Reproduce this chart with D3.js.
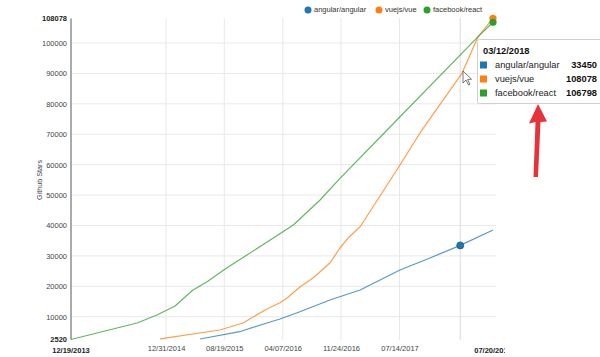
<!DOCTYPE html>
<html><head><meta charset="utf-8">
<script src="https://cdn.jsdelivr.net/npm/d3@7"></script>
<style>body{margin:0;background:#fff}svg{display:block;font-family:"Liberation Sans",Arial,sans-serif}</style>
</head><body>
<svg id="c" width="600" height="357"></svg>
<script>
const seriesNames = ["angular/angular", "vuejs/vue", "facebook/react"];
const seriesColors = ["#1f77b4", "#ff7f0e", "#2ca02c"];
const angularData = [["2015-05-15",2680],["2015-10-19",5080],["2016-02-04",7940],["2016-03-27",9260],["2016-06-14",11660],["2016-10-11",15500],["2017-02-08",18790],["2017-07-16",25360],["2017-11-12",29310],["2018-03-12",33450],["2018-07-20",38510]];
const vueData = [["2014-12-07",2700],["2015-08-02",5640],["2015-11-01",7940],["2016-02-04",12540],["2016-03-27",14620],["2016-04-24",16160],["2016-06-14",19780],["2016-08-05",22740],["2016-10-11",27670],["2016-11-20",32600],["2016-12-22",35880],["2017-02-08",39600],["2017-07-16",59880],["2017-10-11",71380],["2018-03-19",90020],["2018-05-22",102100],["2018-07-20",108078]];
const reactData = [["2013-12-19",2520],["2014-09-07",7944],["2014-11-25",10573],["2015-02-05",13530],["2015-03-10",16000],["2015-04-17",18800],["2015-06-12",21520],["2015-08-21",25595],["2016-05-19",40160],["2016-09-02",48370],["2016-11-20",55500],["2017-05-26",71380],["2018-05-22",102100],["2018-07-20",106798]];
const yTicks = [10000,20000,30000,40000,50000,60000,70000,80000,90000,100000];
const yMin = 2520, yMax = 108078;
const xTickDates = ["2014-12-31","2015-08-19","2016-04-07","2016-11-24","2017-07-14"];
const xMinDate = "2013-12-19", xMaxDate = "2018-07-20";
const hoverDate = "2018-03-12";
const tooltipTitle = "03/12/2018";
const tooltipValues = [33450, 108078, 106798];
const yLabel = "Github Stars";

const parse = d3.timeParse("%Y-%m-%d");
const fmt = d3.timeFormat("%m/%d/%Y");
const svg = d3.select("#c");
const x = d3.scaleTime().domain([parse(xMinDate), parse(xMaxDate)]).range([71, 493]);
const y = d3.scaleLinear().domain([yMin, yMax]).range([339.5, 18.4]);

const defs = svg.append("defs");
defs.append("clipPath").attr("id","clipSvg").append("rect").attr("x",0).attr("y",0).attr("width",505).attr("height",357);

const g = svg.append("g").attr("clip-path","url(#clipSvg)");
// grid
g.selectAll(".hg").data(yTicks).join("line")
  .attr("x1",71).attr("x2",496).attr("y1",d=>y(d)).attr("y2",d=>y(d))
  .attr("stroke","#e8e8e8").attr("stroke-width",1);
g.selectAll(".vg").data(xTickDates).join("line")
  .attr("x1",d=>x(parse(d))).attr("x2",d=>x(parse(d))).attr("y1",18).attr("y2",340)
  .attr("stroke","#e8e8e8").attr("stroke-width",1);
// hover line
g.append("line").attr("x1",x(parse(hoverDate))).attr("x2",x(parse(hoverDate))).attr("y1",18).attr("y2",340)
  .attr("stroke","#dcdcdc").attr("stroke-width",1);

// y axis
const yAxis = d3.axisLeft(y).tickValues(yTicks).tickFormat(d3.format("d")).tickSize(0).tickPadding(4);
const ya = g.append("g").attr("transform","translate(71,0)").call(yAxis);
ya.select(".domain").remove();
ya.selectAll("text").attr("font-size",7.5).attr("fill","#444").attr("font-family","Liberation Sans, Arial");
g.append("line").attr("x1",71).attr("x2",71).attr("y1",y(yMax)).attr("y2",y(yMin)).attr("stroke","#aaa").attr("stroke-width",2);
[yMin,yMax].forEach(v=>{
  g.append("text").attr("x",67).attr("y",y(v)).attr("dy","0.32em").attr("text-anchor","end")
   .attr("font-size",7.5).attr("font-weight","bold").attr("fill","#222").text(v);
});
// x axis
const xAxis = d3.axisBottom(x).tickValues(xTickDates.map(parse)).tickFormat(fmt).tickSize(0).tickPadding(6);
const xa = g.append("g").attr("transform","translate(0,340)").call(xAxis);
xa.select(".domain").remove();
xa.selectAll("text").attr("font-size",7.5).attr("fill","#444").attr("font-family","Liberation Sans, Arial");
[xMinDate,xMaxDate].forEach(d=>{
  g.append("text").attr("x",x(parse(d))).attr("y",353).attr("text-anchor","middle")
   .attr("font-size",7.5).attr("font-weight","bold").attr("fill","#222").text(fmt(parse(d)));
});
// y label
g.append("text").attr("transform","translate(42,180) rotate(-90)").attr("text-anchor","middle")
  .attr("font-size",7.2).attr("fill","#444").text(yLabel);

// lines
const line = d3.line().x(d=>x(parse(d[0]))).y(d=>y(d[1]));
const all = [angularData, vueData, reactData];
all.forEach((data,i)=>{
  g.append("path").datum(data).attr("d",line).attr("fill","none").attr("stroke-linejoin","round")
   .attr("stroke",seriesColors[i]).attr("stroke-width",1.2).attr("stroke-opacity",0.75);
});
// markers
const blueHover = angularData.find(d=>d[0]===hoverDate);
g.append("circle").attr("cx",x(parse(blueHover[0]))).attr("cy",y(blueHover[1])).attr("r",3.5)
  .attr("fill",seriesColors[0]).attr("stroke","#155a8a").attr("stroke-width",0.8);
[1,2].forEach(i=>{
  const last = all[i][all[i].length-1];
  g.append("circle").attr("cx",x(parse(last[0]))).attr("cy",y(last[1])).attr("r",3.6)
   .attr("fill",seriesColors[i]);
});

// legend
const legX = [308, 379, 427];
seriesNames.forEach((n,i)=>{
  svg.append("circle").attr("cx",legX[i]).attr("cy",10).attr("r",3.5).attr("fill",seriesColors[i]);
  svg.append("text").attr("x",legX[i]+6).attr("y",10).attr("dy","0.33em").attr("font-size",7.5).attr("fill","#333").text(n);
});

// tooltip
const tt = svg.append("g");
tt.append("rect").attr("x",477.5).attr("y",39.5).attr("width",130).attr("height",64).attr("rx",2)
  .attr("fill","#fff").attr("fill-opacity",0.95).attr("stroke","#cfcfcf");
tt.append("text").attr("x",483).attr("y",54).attr("font-size",9.3).attr("font-weight","bold").attr("fill","#111").text(tooltipTitle);
seriesNames.forEach((n,i)=>{
  const cy = 65 + i*14;
  tt.append("rect").attr("x",480).attr("y",cy-3.5).attr("width",7).attr("height",7).attr("fill",seriesColors[i]);
  tt.append("text").attr("x",495).attr("y",cy).attr("dy","0.35em").attr("font-size",9.3).attr("fill","#222").text(n);
  tt.append("text").attr("x",597).attr("y",cy).attr("dy","0.35em").attr("text-anchor","end")
    .attr("font-size",9.3).attr("font-weight","bold").attr("fill","#111").text(tooltipValues[i]);
});

// cursor
svg.append("path").attr("d","M463,71 L463,83 L466,80 L468.5,85 L470,84.3 L467.6,79.5 L471.5,79.2 Z")
  .attr("fill","#fff").attr("stroke","#555").attr("stroke-width",0.8);

// red arrow
svg.append("path").attr("d","M533.5,177 L535.5,122 L529,123.5 L538,104 L547,121.5 L540.5,122 L538,177 Z")
  .attr("fill","#e8323a");
</script>
</body></html>
